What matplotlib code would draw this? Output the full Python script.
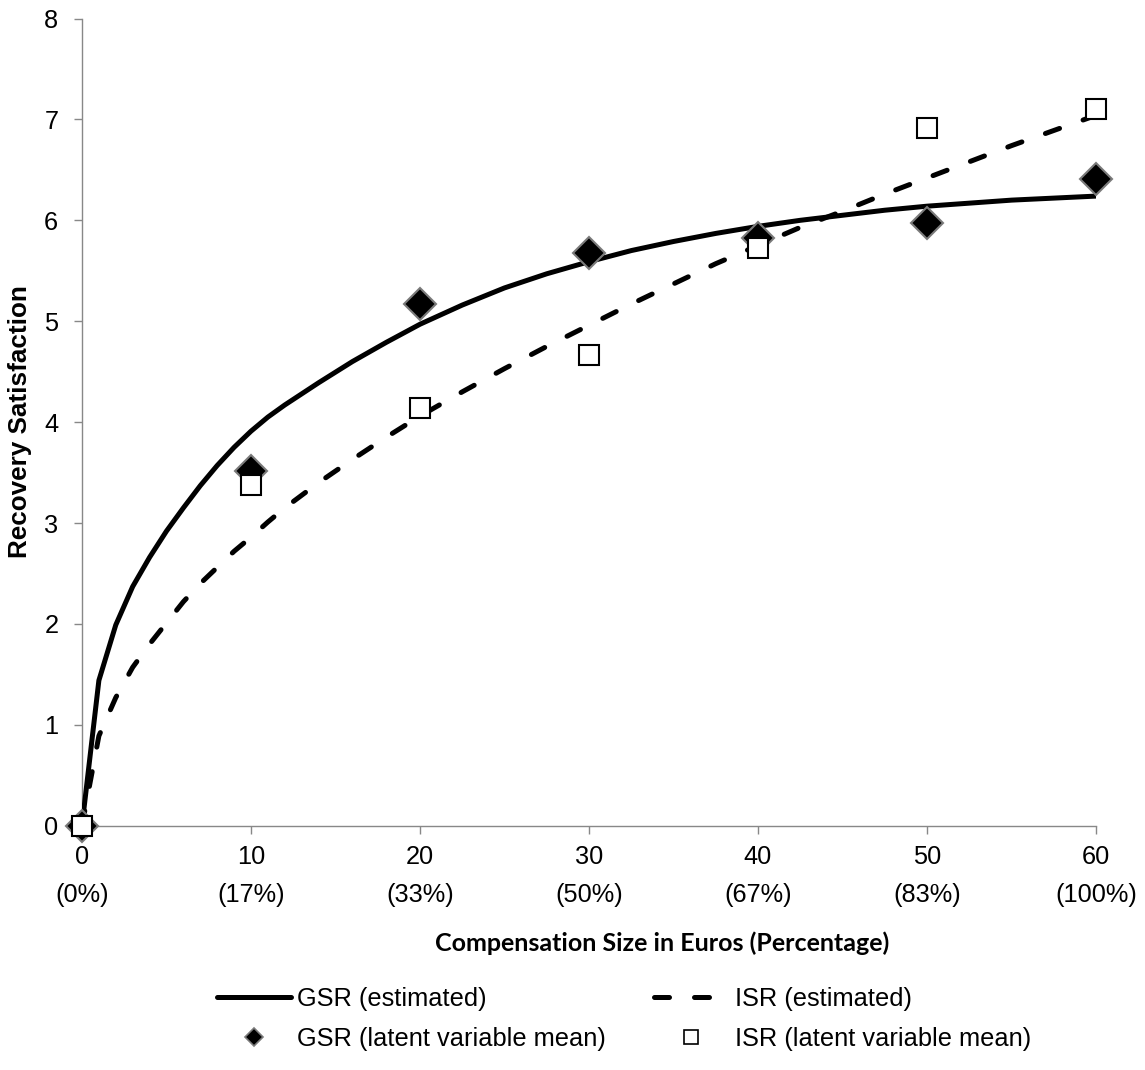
import matplotlib
matplotlib.use("Agg")
import matplotlib.pyplot as plt
from matplotlib.lines import Line2D

# ---- data ----
x_est = [0, 1, 2, 3, 4, 5, 6, 7, 8, 9, 10, 11, 12, 14, 16, 18, 20, 22.5, 25, 27.5,
         30, 32.5, 35, 37.5, 40, 42.5, 45, 47.5, 50, 52.5, 55, 57.5, 60]
gsr_est = [0, 1.44, 1.99, 2.37, 2.66, 2.92, 3.15, 3.37, 3.57, 3.75, 3.91, 4.05,
           4.17, 4.39, 4.60, 4.79, 4.97, 5.16, 5.33, 5.47, 5.59, 5.70, 5.79,
           5.87, 5.94, 6.00, 6.05, 6.10, 6.14, 6.17, 6.20, 6.22, 6.24]
isr_est = [0, 0.89, 1.27, 1.57, 1.80, 2.01, 2.22, 2.40, 2.56, 2.72, 2.86, 3.01,
           3.15, 3.40, 3.63, 3.85, 4.06, 4.30, 4.53, 4.75, 4.96, 5.17, 5.37,
           5.57, 5.75, 5.93, 6.09, 6.26, 6.42, 6.58, 6.74, 6.89, 7.04]

x_pts = [0, 10, 20, 30, 40, 50, 60]
gsr_mean = [0, 3.52, 5.17, 5.68, 5.82, 5.97, 6.41]
isr_mean = [0, 3.38, 4.14, 4.67, 5.73, 6.91, 7.10]

x_ticks = [0, 10, 20, 30, 40, 50, 60]
x_pct = ["(0%)", "(17%)", "(33%)", "(50%)", "(67%)", "(83%)", "(100%)"]
y_ticks = [0, 1, 2, 3, 4, 5, 6, 7, 8]

labels = ["GSR (estimated)", "GSR (latent variable mean)",
          "ISR (estimated)", "ISR (latent variable mean)"]

plt.rcParams['font.family'] = ['Liberation Sans', 'DejaVu Sans']
FS = 18.3
AX_GRAY = '#888888'

fig = plt.figure(figsize=(11.45, 10.70), dpi=100)
ax = fig.add_axes([0.0716, 0.2283, 0.8856, 0.7544])

lw = 3.6
ax.plot(x_est, gsr_est, color='black', lw=lw, solid_capstyle='butt',
        solid_joinstyle='round', zorder=3)
ax.plot(x_est, isr_est, color='black', lw=lw, dashes=(3, 5),
        dash_capstyle='round', zorder=3)
ax.plot(x_pts, gsr_mean, linestyle='none', marker='D', markersize=16,
        markerfacecolor='black', markeredgecolor='#7a7a7a', markeredgewidth=1.5,
        zorder=4, clip_on=False)
ax.plot(x_pts, isr_mean, linestyle='none', marker='s', markersize=15,
        markerfacecolor='white', markeredgecolor='black', markeredgewidth=1.5,
        zorder=5, clip_on=False)

ax.set_xlim(0, 60)
ax.set_ylim(0, 8)
ax.set_xticks(x_ticks)
ax.set_xticklabels([f"{t}\n{p}" for t, p in zip(x_ticks, x_pct)],
                   linespacing=1.75)
ax.set_yticks(y_ticks)
ax.set_yticklabels([str(t) for t in y_ticks])
ax.tick_params(axis='both', direction='out', length=6, width=1.0,
               color=AX_GRAY, labelsize=FS, labelcolor='black')
ax.tick_params(axis='x', pad=8)
ax.tick_params(axis='y', pad=11)
for s in ['top', 'right']:
    ax.spines[s].set_visible(False)
for s in ['left', 'bottom']:
    ax.spines[s].set_color(AX_GRAY)
    ax.spines[s].set_linewidth(1.0)

fig.text(0.0175, 0.6056, "Recovery Satisfaction", rotation=90, fontsize=18.8,
         fontweight='bold', ha='center', va='center')
fig.text(662 / 1145, 0.1187, "Compensation Size in Euros (Percentage)",
         fontsize=18, fontweight='bold', family=['Lato', 'DejaVu Sans'],
         ha='center', va='center')

handles = [
    Line2D([], [], color='black', lw=lw, solid_capstyle='round'),
    Line2D([], [], linestyle='none', marker='D', markersize=9,
           markerfacecolor='black', markeredgecolor='#7a7a7a', markeredgewidth=1.2),
    Line2D([], [], color='black', lw=lw, dashes=(3, 5), dash_capstyle='round'),
    Line2D([], [], linestyle='none', marker='s', markersize=10,
           markerfacecolor='white', markeredgecolor='black', markeredgewidth=1.2),
]
fig.legend(handles, labels, ncol=2, loc='center',
           bbox_to_anchor=(624 / 1145, 0.048), frameon=False, fontsize=FS,
           handlelength=2.9, handletextpad=0.25, columnspacing=1.9,
           labelspacing=0.62)

fig.savefig("out.png", dpi=100)
